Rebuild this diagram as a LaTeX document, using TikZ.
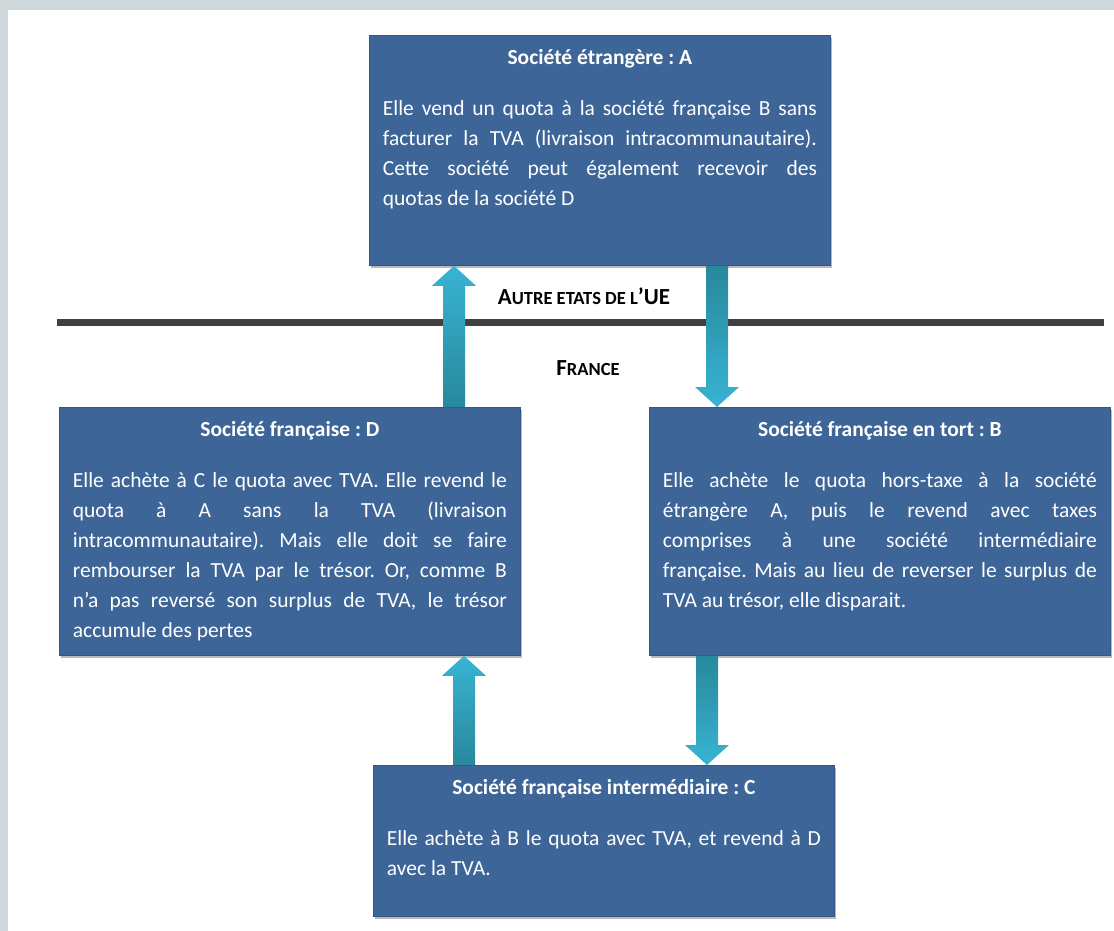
\documentclass[tikz,border=0pt]{standalone}
\usepackage{fontspec}
\setmainfont{Carlito}
\usetikzlibrary{calc,shadows}
\definecolor{boxblue}{RGB}{61,101,152}
\definecolor{boxedge}{RGB}{52,86,130}
\definecolor{arrlight}{RGB}{56,180,212}
\definecolor{arrdark}{RGB}{40,136,155}
\definecolor{framegrey}{RGB}{207,216,219}
\definecolor{rulegrey}{RGB}{64,64,64}
\tikzset{
  box/.style={draw=boxedge, line width=0.8pt, fill=boxblue, text=white,
    inner xsep=13.5pt, inner ysep=0pt, anchor=north west,
    drop shadow={shadow xshift=2pt, shadow yshift=-2.5pt, opacity=0.45, fill=black!60}},
  lbl/.style={font=\fontsize{23}{26}\selectfont\bfseries, text=black},
  region/.style={line width=7pt, draw=rulegrey},
}
\newcommand\boxtext[3]{%
  \begin{minipage}[t][#1][t]{434pt}\fontsize{21.5}{30}\selectfont
  \frenchspacing\hyphenpenalty=10000 \tolerance=10000
  {\centering\rule{0pt}{29pt}\textbf{#2}\par}
  \vspace{21pt}
  #3\par
  \end{minipage}}
\newcommand\uparr[2]{\shade[top color=arrlight,bottom color=arrdark]
  ($(#1)+(-11,0)$) -- ($(#2)+(-11,20)$) -- ($(#2)+(-22,20)$) -- (#2) --
  ($(#2)+(22,20)$) -- ($(#2)+(11,20)$) -- ($(#1)+(11,0)$) -- cycle;}
\newcommand\downarr[2]{\shade[top color=arrdark,bottom color=arrlight]
  ($(#1)+(-11,0)$) -- ($(#2)+(-11,-20)$) -- ($(#2)+(-22,-20)$) -- (#2) --
  ($(#2)+(22,-20)$) -- ($(#2)+(11,-20)$) -- ($(#1)+(11,0)$) -- cycle;}
\begin{document}
\begin{tikzpicture}[x=1pt,y=-1pt]
\useasboundingbox (0,0) rectangle (1114,931);
\fill[framegrey] (0,0) rectangle (1114,931);
\fill[white] (8,10) rectangle (1114,931);

\draw[region] (57,322) -- (1104,322);
\node[lbl] (ue) at (584,296) {A{\fontsize{18.5}{20}\selectfont UTRE ETATS DE L}'UE};
\node[lbl] (fr) at (588,368) {F{\fontsize{18.5}{20}\selectfont RANCE}};

\node[box] (A) at (369,35) {\boxtext{230pt}{Société étrangère : A}{Elle vend un quota à la société française B sans\linebreak facturer la TVA (livraison intracommunautaire).\linebreak Cette société peut également recevoir des\linebreak quotas de la société D}};
\node[box] (D) at (59,407) {\boxtext{248pt}{Société française : D}{Elle achète à C le quota avec TVA. Elle revend le\linebreak quota à A sans la TVA (livraison\linebreak intracommunautaire). Mais elle doit se faire\linebreak rembourser la TVA par le trésor. Or, comme B\linebreak n’a pas reversé son surplus de TVA, le trésor\linebreak accumule des pertes}};
\node[box] (B) at (649,407) {\boxtext{248pt}{Société française en tort : B}{Elle achète le quota hors-taxe à la société\linebreak étrangère A, puis le revend avec taxes\linebreak comprises à une société intermédiaire\linebreak française. Mais au lieu de reverser le surplus de\linebreak TVA au trésor, elle disparait.}};
\node[box] (C) at (373,765) {\boxtext{151pt}{Société française intermédiaire : C}{Elle achète à B le quota avec TVA, et revend à D\linebreak avec la TVA.}};

\coordinate (x1) at (454,0);
\coordinate (x2) at (717,0);
\coordinate (x3) at (464,0);
\coordinate (x4) at (707,0);
\coordinate (t1) at (D.north -| x1);
\coordinate (h1) at (A.south -| x1);
\coordinate (t2) at (A.south -| x2);
\coordinate (h2) at (B.north -| x2);
\coordinate (t3) at (C.north -| x3);
\coordinate (h3) at (D.south -| x3);
\coordinate (t4) at (B.south -| x4);
\coordinate (h4) at (C.north -| x4);
\uparr{t1}{h1}
\downarr{t2}{h2}
\uparr{t3}{h3}
\downarr{t4}{h4}
\end{tikzpicture}
\end{document}
